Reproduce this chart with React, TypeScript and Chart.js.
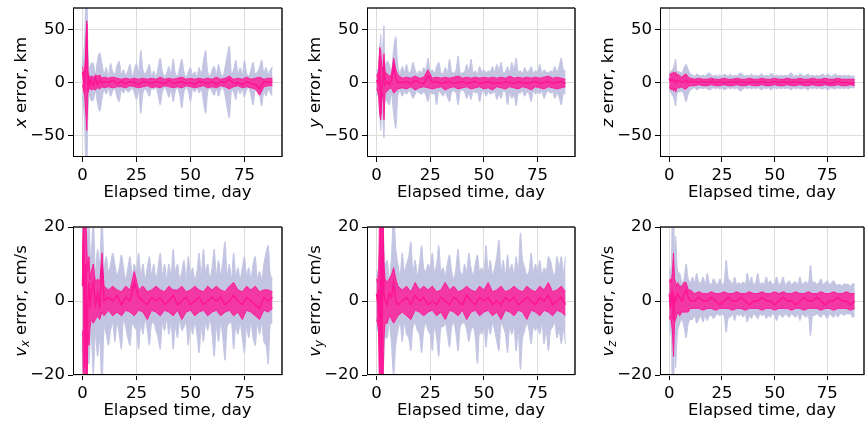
import React, { useEffect, useRef } from "react";
import { Chart, registerables } from "chart.js";
Chart.register(...registerables);

const FONT = '"DejaVu Sans", "Liberation Sans", sans-serif';
const LAVENDER = "#c2c4e2";
const PINK = "#ff1493";
const PINK_FILL = "rgba(255,20,147,0.8)";
const PINK_EDGE = "rgba(255,20,147,0.9)";

const X_TICKS = [0, 25, 50, 75];
const POS_TICKS = [-50, 0, 50];
const VEL_TICKS = [-20, 0, 20];
const X_TITLE = "Elapsed time, day";

// time grid of the lavender envelopes (days)
const T = [0, 0.5, 1, 1.5, 2, 2.5, 3, 3.5, 4, 5, 6, 7, 8, 9, 10, 11, 12, 13, 14, 15, 16, 17, 18, 19, 20, 21, 22, 23, 24, 25, 26, 27, 28, 29, 30, 31, 32, 33, 34, 35, 36, 37, 38, 39, 40, 41, 42, 43, 44, 45, 46, 47, 48, 49, 50, 51, 52, 53, 54, 55, 56, 57, 58, 59, 60, 61, 62, 63, 64, 65, 66, 67, 68, 69, 70, 71, 72, 73, 74, 75, 76, 77, 78, 79, 80, 81, 82, 83, 84, 85, 86, 87, 88];
// time grid of the pink run bundle (days)
const TP = [0, 0.5, 1, 1.5, 2, 2.5, 3, 3.5, 4, 5, 6, 7, 8, 9, 10, 12, 14, 16, 18, 20, 22, 24, 26, 28, 30, 32, 34, 36, 38, 40, 42, 44, 46, 48, 50, 52, 54, 56, 58, 60, 62, 64, 66, 68, 70, 72, 74, 76, 78, 80, 82, 84, 86, 88];

// ---- x error, km
const X_UP = [14,25,40,75,80,35,12,15,18, 18,8,22,28,18,8,14,6,18,10, 8,16,20,8,12,7,11,17,6,12, 18,10,30,12,8,12,17,6,11,5, 14,23,10,6,9,15,8,22,9,6, 14,22,10,5,10,14,7,10,6,14, 8,20,30,10,6,12,15,8,17,9, 6,14,25,34,8,12,21,8,14,7, 21,9,6,12,19,8,10,14,21,9, 14,8,12,15];
const X_LO = [-12,-22,-40,-75,-80,-30,-10,-14,-17, -17,-8,-20,-27,-16,-7,-11,-6,-13,-8, -6,-14,-18,-7,-10,-6,-9,-8,-5,-10, -16,-8,-29,-10,-6,-9,-13,-5,-7,-4, -12,-21,-9,-5,-8,-14,-7,-18,-8,-5, -12,-24,-9,-5,-8,-18,-6,-9,-5,-10, -6,-18,-29,-9,-5,-9,-12,-6,-13,-7, -5,-12,-24,-33,-7,-9,-16,-6,-11,-6, -14,-7,-5,-12,-21,-7,-8,-12,-22,-8, -13,-7,-10,-13];
const X_PHI = [15,8,12,28,58,10,6,5,6, 5,7,6,7,4,5, 4,5,4,3,4,3,4,3,4,3, 4,3,5,3,4,3,4,5,3,4, 3,4,3,4,3,5,3,4,6,3, 4,3,5,3,4,5,3,4,4];
const X_PLO = [-2,-8,-12,-28,-45,-10,-6,-5,-7, -6,-7,-5,-6,-4,-5, -4,-5,-4,-4,-5,-3,-4,-5,-4,-3, -5,-4,-5,-3,-4,-5,-4,-5,-3,-4, -5,-4,-3,-5,-4,-5,-3,-4,-6,-4, -3,-5,-4,-5,-6,-12,-4,-3,-3];
const X_PMID = [10,2,-4,20,55,-8,3,-2,2, -3,4,-2,3,-1,1, 0,2,-1,1,-1,1,0,-2,1,0, -1,1,0,-1,2,-1,0,1,-1,0, -2,1,0,-1,1,-2,1,0,3,-1, 0,-2,1,-1,-2,-6,1,0,1];

// ---- y error, km
const Y_UP = [12,12,14,30,45,10,35,53,15, 20,17,10,32,43,14,9,15,10,17, 9,11,19,12,8,11,9,14,12,23, 10,12,9,15,19,10,8,14,9,22, 10,9,12,25,9,9,10,17,11,22, 9,11,8,15,10,12,9,11,10,15, 10,17,12,19,9,10,15,10,19,12, 23,10,11,9,14,10,11,15,9,11, 10,17,9,12,10,9,11,10,15,10, 15,23,12,11];
const Y_LO = [-11,-12,-14,-30,-45,-18,-35,-52,-15, -18,-21,-10,-30,-43,-12,-8,-13,-9,-11, -8,-10,-15,-11,-8,-10,-11,-9,-12,-18, -9,-11,-10,-21,-8,-10,-13,-9,-14,-18, -9,-8,-10,-21,-8,-7,-9,-15,-10,-16, -8,-10,-9,-18,-10,-8,-13,-9,-11,-10, -9,-16,-11,-15,-8,-9,-21,-10,-15,-12, -22,-10,-10,-8,-13,-9,-11,-18,-8,-11, -9,-11,-8,-15,-10,-8,-10,-9,-15,-10, -14,-21,-10,-11];
const Y_PHI = [6,8,10,33,30,12,15,27,10, 8,6,8,23,12,7, 4,5,4,6,4,5,12,4,5,4, 5,4,5,6,4,5,4,5,4,5, 4,5,4,5,4,6,4,5,4,5, 4,5,4,5,6,4,5,4,3];
const Y_PLO = [-6,-8,-12,-30,-35,-15,-10,-35,-10, -8,-6,-5,-10,-8,-6, -5,-6,-4,-7,-5,-4,-5,-6,-5,-4, -7,-5,-4,-6,-5,-4,-6,-5,-4,-6, -5,-7,-4,-5,-6,-4,-5,-6,-4,-5, -7,-4,-5,-6,-4,-5,-6,-5,-4];
const Y_PMID = [2,0,-1,25,-30,-5,3,20,-2, 1,-2,2,15,3,0, 0,1,-1,2,0,-1,6,0,1,-1, 0,1,-1,0,1,-1,0,1,-1,0, 1,-1,0,-1,1,0,-1,1,0,-1, 0,1,-1,0,1,-1,0,1,-1];

// ---- z error, km
const Z_UP = [9,10,11,12,14,18,22,12,10, 10,9,14,17,12,8,7,6,8,7, 6,7,6,8,9,7,6,7,6,7, 6,8,7,6,8,6,7,6,8,9, 7,6,7,6,8,6,7,6,7,8, 6,7,6,8,8,6,7,6,7,6, 7,6,8,9,6,7,6,8,7,6, 7,8,6,7,6,7,6,7,8,6, 8,7,6,7,8,6,7,6,7,6, 7,6,6,6];
const Z_LO = [-8,-9,-10,-12,-14,-18,-22,-12,-9, -9,-8,-12,-18,-11,-7,-6,-5,-7,-6, -5,-6,-5,-6,-7,-6,-5,-6,-5,-6, -5,-7,-6,-5,-6,-5,-6,-5,-7,-8, -6,-5,-6,-5,-6,-5,-6,-5,-6,-7, -5,-6,-5,-7,-6,-5,-6,-5,-6,-5, -6,-5,-6,-7,-5,-6,-5,-6,-6,-5, -6,-7,-5,-6,-5,-6,-5,-6,-6,-5, -7,-6,-5,-6,-6,-5,-6,-5,-6,-5, -6,-5,-5,-5];
const Z_PHI = [8,7,9,8,10,8,10,7,8, 6,5,7,8,5,4, 3,4,3,3,4,3,3,4,3,3, 4,3,3,4,3,3,4,3,3,4, 3,3,4,3,3,4,3,3,4,3, 3,4,3,3,4,3,3,3,3];
const Z_PLO = [-4,-6,-7,-5,-8,-6,-9,-6,-5, -5,-4,-6,-6,-4,-3, -3,-2,-3,-3,-2,-3,-3,-2,-3,-3, -2,-3,-3,-2,-3,-3,-2,-3,-3,-2, -3,-3,-2,-3,-3,-2,-3,-3,-2,-3, -3,-2,-3,-3,-2,-3,-3,-2,-3];
const Z_PMID = [4,1,2,3,1,2,0,1,2, 1,0,1,2,0,1, 1,0,1,0,1,0,1,0,0,1, 0,1,0,0,1,0,1,0,0,1, 0,1,0,0,1,0,0,1,0,0, 1,0,-1,0,1,0,0,-1,0];

// ---- vx error, cm/s
const VX_UP = [15,22,25,25,22,16,25,14,12, 22,8,14,10,25,9,12,8,10,13, 10,7,9,12.5,9,6,9,12,7,10, 8,13,7,10,6,9,12,7,10,6, 9,13,7,10,6,10,7,14,8,10, 6,8,11,6,12,7,9,6,8,13, 7,14,8,10,6,9,14,7,11,7, 11,16,7,10,6,13,7,9,6,9, 12,7,9,6,10,12,6,8,6,10, 13,15,7,6];
const VX_LO = [-12,-25,-25,-25,-22,-15,-17,-12,-8, -20,-9,-15,-10,-25,-7,-9,-12,-8,-6, -11,-6,-9,-13,-5,-7,-10,-12,-6,-7, -8,-13,-6,-9,-5,-8,-12,-6,-6,-8, -10,-13,-6,-8,-5,-9,-6,-13,-7,-10, -5,-8,-7,-6,-12,-6,-9,-6,-9,-14, -7,-11,-6,-8,-5,-9,-15,-7,-11,-6, -10,-16,-7,-6,-6,-13,-7,-9,-6,-10, -14,-7,-10,-6,-10,-12,-6,-9,-6,-11, -12,-17,-6,-6];
const VX_PHI = [10,25,25,25,14,8,12,6,8, 10,5,6,5,13,4, 3,4,3,2.5,4,3,8,3,4,2.5, 3,4,3,2.5,4,3,3,4,2.5,3, 4,3,2.5,4,3,4,3,2.5,4,5, 3,2.5,4,3,4,2.5,3,3,2.5];
const VX_PLO = [-8,-25,-25,-25,-25,-8,-12,-7,-5, -6,-5,-4,-5,-3,-4, -2.5,-4,-3,-4,-2.5,-3,-4,-2.5,-3,-5, -2.5,-3,-4,-2.5,-3,-4,-2.5,-5,-3,-2.5, -4,-3,-2.5,-4,-3,-2.5,-4,-3,-2.5,-4, -3,-5,-2.5,-3,-4,-5,-2.5,-3,-2];
const VX_PMID = [4,20,-18,10,-20,0,5,-2,2, 5,-1,2,-2,10,0, 1,0,1.5,-1,1,0,5,1,0,-1, 1,0,1,-1,0,1.5,-1,0,1,-1, 0,1,-1,0,1,0,1,-1,0,1.5, 0,-1,1,0,-1,-2,1,0,1];

// ---- vy error, cm/s
const VY_UP = [8,8,9,14,25,25,25,14,10, 11,6,12,25,14,10,7,13,8,10, 12,16,8,11,7,10,15,9,8,10, 9,13,8,10,15,8,9,7,10,12.5, 8,6,9,14,8,7,10,8,13,9, 7,10,12.5,8,9,7,15,8,11,7, 9,12,16.5,8,11,7,12.5,8,10,7, 12,8,18.4,11,9,7,8,13,8,10, 8,11,7,9,8,12,11,8,7,12, 9,12,8,12];
const VY_LO = [-7,-8,-9,-14,-25,-25,-25,-14,-10, -10,-6,-12,-20,-12,-8,-6,-11,-6,-9, -10,-13.5,-7,-6,-8,-9,-14,-8,-6,-8, -9,-13.5,-7,-10,-15,-7,-7,-6,-9,-12.5, -7,-6,-9,-13.5,-7,-6,-6,-8,-11,-8, -7,-10,-17,-8,-9,-7,-12.5,-7,-9,-6, -8,-11,-13.5,-6,-7,-9,-14,-7,-9,-7, -13.5,-8,-18.5,-10,-8,-6,-8,-11.6,-7,-8, -7,-9,-6,-11.6,-8,-13.5,-8,-7,-6,-10, -8,-11.6,-8,-11.6];
const VY_PHI = [6,5,8,25,25,25,25,10,6, 5,6,7,9,6,4, 3,4,2.5,5,3,4,3,4,2.5,3, 5,3,4,2.5,3,4,3,2.5,4,3, 5,2.5,3,4,2.5,3,4,3,2.5,4, 3,2.5,4,3,5,2.5,3,4,2.5];
const VY_PLO = [-5,-6,-8,-25,-25,-25,-25,-10,-6, -6,-4,-5,-6,-5,-4, -3,-4,-5,-2.5,-3,-4,-3,-2.5,-4,-3, -5,-2.5,-3,-4,-2.5,-5,-3,-2.5,-4,-3, -2.5,-4,-3,-5,-2.5,-3,-4,-2.5,-3,-5, -2.5,-3,-4,-2.5,-3,-4,-2.5,-3,-4];
const VY_PMID = [2,0,3,-20,22,-22,20,2,0, -1,2,1,5,0,-1, 0,1,-1,1.5,0,1,-1,0,-1,1, 0,-1,1,0,-1,1.5,0,-1,1,0, 1,-1,0,-1,1,0,1,-1,0,1, 0,-1,1,0,1.5,-1,0,1,-1];

// ---- vz error, cm/s
const VZ_UP = [8,8,10,25,25,12,17.5,12,8, 7.5,5,6,10,6,5,6.5,5,7.5,5, 5,6.5,4.5,7.5,5,4.5,6,5,4.5,6, 4.5,5,11,6,5.5,4.5,6.5,4.5,5,4.5, 5.2,4.5,7.5,5,6.5,4.5,5,7.5,4.5,5, 4.5,6.5,5,5.5,4.5,5,6.5,4.5,5,6.5, 4.5,5,5.5,4.5,5,5.2,4.5,6.5,4.5,5, 5.2,4.5,9.7,5,5.2,4.5,5,6,4.5,5, 5.5,4.5,5,5.5,4.5,4.3,4.5,4,4.7,4.5, 4.5,4,4.7,4.5];
const VZ_LO = [-8,-8,-10,-25,-25,-12,-18,-12,-8, -6,-5,-7,-10,-6,-5,-5,-4,-6,-5, -4,-5.7,-4,-5.3,-4,-4,-4.8,-4,-3.5,-4, -3.5,-4,-8.5,-4.5,-4.4,-3.5,-5.3,-3.5,-4,-3.5, -4.4,-3.5,-5.7,-4,-4.8,-3.5,-4,-4.8,-3.5,-4, -3.5,-4.8,-4,-4.4,-3.5,-4,-5.3,-3.5,-4,-4.4, -3.5,-4,-4.4,-3.5,-4,-4.4,-3.5,-5.3,-3.5,-4, -4.4,-3.5,-9.4,-4,-3.9,-3.5,-4,-4.4,-3.5,-4, -4.8,-3.5,-4,-4.4,-3.5,-4.4,-3.5,-3.5,-3.9,-3.5, -3.5,-3.5,-4.4,-4];
const VZ_PHI = [5,6,5,8,13,6,5,4,5, 4,4,5,5,3,3, 2,2.5,2,2,2.5,2,2,2.5,2,2, 2.5,2,2,2.5,2,2,2.5,2,2,2.5, 2,2.5,2,2,2.5,2,2,2.5,2,2, 2.5,2,2,2.5,2,2,2.5,2,2];
const VZ_PLO = [-5,-4,-6,-8,-15,-6,-5,-4,-3, -4,-3,-3,-3,-3,-2, -2,-2,-2.5,-2,-2,-2.5,-2,-2,-2,-2.5, -2,-2,-2.5,-2,-2,-2,-2.5,-2,-2,-2.5, -2,-2,-2,-2.5,-2,-2,-2.5,-2,-2,-2, -2.5,-2,-2,-2.5,-2,-2,-2,-2.5,-2];
const VZ_PMID = [2,-2,1,3,-5,1,0,1,2, 1,0,2,3,1,0, 0,1,0,0,1,0,-1,0,1,0, 0,1,0,-1,0,0,1,0,0,-1, 0,1,0,0,-1,0,1,0,0,1, 0,-1,0,0,1,0,0,-1,0];

type Part = { t: string; it?: boolean; sub?: boolean };
const LABEL_X: Part[] = [{ t: "x", it: true }, { t: " error, km" }];
const LABEL_Y: Part[] = [{ t: "y", it: true }, { t: " error, km" }];
const LABEL_Z: Part[] = [{ t: "z", it: true }, { t: " error, km" }];
const LABEL_VX: Part[] = [{ t: "v", it: true }, { t: "x", it: true, sub: true }, { t: " error, cm/s" }];
const LABEL_VY: Part[] = [{ t: "v", it: true }, { t: "y", it: true, sub: true }, { t: " error, cm/s" }];
const LABEL_VZ: Part[] = [{ t: "v", it: true }, { t: "z", it: true, sub: true }, { t: " error, cm/s" }];

const PANELS = [
  { cx: 0, cy: 0, cw: 290, ch: 212, L: 73, R: 282, T: 8, B: 157, lim: 70, yt: POS_TICKS, up: X_UP, lo: X_LO, phi: X_PHI, plo: X_PLO, pmid: X_PMID, label: LABEL_X },
  { cx: 290, cy: 0, cw: 290, ch: 212, L: 77, R: 285, T: 8, B: 157, lim: 70, yt: POS_TICKS, up: Y_UP, lo: Y_LO, phi: Y_PHI, plo: Y_PLO, pmid: Y_PMID, label: LABEL_Y },
  { cx: 580, cy: 0, cw: 285, ch: 212, L: 80, R: 284, T: 8, B: 157, lim: 70, yt: POS_TICKS, up: Z_UP, lo: Z_LO, phi: Z_PHI, plo: Z_PLO, pmid: Z_PMID, label: LABEL_Z },
  { cx: 0, cy: 212, cw: 290, ch: 211, L: 73, R: 282, T: 15, B: 163, lim: 20, yt: VEL_TICKS, up: VX_UP, lo: VX_LO, phi: VX_PHI, plo: VX_PLO, pmid: VX_PMID, label: LABEL_VX },
  { cx: 290, cy: 212, cw: 290, ch: 211, L: 77, R: 285, T: 15, B: 163, lim: 20, yt: VEL_TICKS, up: VY_UP, lo: VY_LO, phi: VY_PHI, plo: VY_PLO, pmid: VY_PMID, label: LABEL_VY },
  { cx: 580, cy: 212, cw: 285, ch: 211, L: 80, R: 284, T: 15, B: 163, lim: 20, yt: VEL_TICKS, up: VZ_UP, lo: VZ_LO, phi: VZ_PHI, plo: VZ_PLO, pmid: VZ_PMID, label: LABEL_VZ },
];

const fmt = (v: number) => (v < 0 ? "\u2212" + Math.abs(v) : String(v));
const pts = (xs: number[], ys: number[]) => xs.map((x, i) => ({ x, y: ys[i] }));

function makeFrame(label: Part[]) {
  return {
    id: "frame",
    afterDraw(chart: any) {
      const { ctx, chartArea: a } = chart;
      ctx.save();
      ctx.strokeStyle = "#000";
      ctx.lineWidth = 1;
      ctx.beginPath();
      ctx.moveTo(a.left + 0.5, a.top);
      ctx.lineTo(a.left + 0.5, a.bottom);
      ctx.moveTo(a.left, a.bottom - 0.5);
      ctx.lineTo(a.right, a.bottom - 0.5);
      ctx.stroke();
      ctx.lineWidth = 1.6;
      ctx.strokeStyle = "#222";
      ctx.beginPath();
      ctx.moveTo(a.left, a.top);
      ctx.lineTo(a.right, a.top);
      ctx.moveTo(a.right, a.top);
      ctx.lineTo(a.right, a.bottom);
      ctx.stroke();

      ctx.fillStyle = "#000";
      ctx.font = `16.5px ${FONT}`;
      ctx.textAlign = "center";
      ctx.textBaseline = "alphabetic";
      ctx.fillText(X_TITLE, (a.left + a.right) / 2, a.bottom + 40);

      const fontOf = (p: Part) => `${p.it ? "italic " : ""}${p.sub ? 11.5 : 16.5}px ${FONT}`;
      let total = 0;
      const widths = label.map((p) => {
        ctx.font = fontOf(p);
        const w = ctx.measureText(p.t).width;
        total += w;
        return w;
      });
      ctx.translate(a.left - 47.5, (a.top + a.bottom) / 2);
      ctx.rotate(-Math.PI / 2);
      ctx.textAlign = "left";
      let pos = -total / 2;
      label.forEach((p, i) => {
        ctx.font = fontOf(p);
        ctx.fillText(p.t, pos, p.sub ? 3.5 : 0);
        pos += widths[i];
      });
      ctx.restore();
    },
  };
}

function Panel({ p }: { p: (typeof PANELS)[number] }) {
  const ref = useRef<HTMLCanvasElement>(null);
  useEffect(() => {
    const canvas = ref.current;
    if (!canvas) return;
    const tickFont = { family: FONT, size: 16.5 };
    const chart = new Chart(canvas, {
      type: "line",
      data: {
        datasets: [
          { data: pts(TP, p.pmid), borderColor: PINK, borderWidth: 1.5, pointRadius: 0, fill: false, order: 0 },
          { data: pts(TP, p.phi), borderColor: PINK_EDGE, borderWidth: 1, backgroundColor: PINK_FILL, pointRadius: 0, fill: "+1", order: 1 },
          { data: pts(TP, p.plo), borderColor: PINK_EDGE, borderWidth: 1, pointRadius: 0, fill: false, order: 1 },
          { data: pts(T, p.up), borderColor: LAVENDER, borderWidth: 1, backgroundColor: LAVENDER, pointRadius: 0, fill: "+1", order: 2, tension: 0.3 },
          { data: pts(T, p.lo), borderColor: LAVENDER, borderWidth: 1, pointRadius: 0, fill: false, order: 2, tension: 0.3 },
        ],
      } as any,
      options: {
        animation: false,
        responsive: false,
        events: [],
        layout: { padding: { left: 0, top: p.T, right: p.cw - p.R, bottom: 0 } },
        elements: { line: { tension: 0 }, point: { radius: 0 } },
        plugins: { legend: { display: false }, tooltip: { enabled: false } },
        scales: {
          x: {
            type: "linear",
            min: -4.4,
            max: 92.4,
            afterBuildTicks: (s: any) => { s.ticks = X_TICKS.map((v) => ({ value: v })); },
            afterFit: (s: any) => { s.height = p.ch - p.B; s.paddingLeft = 0; s.paddingRight = 0; },
            grid: { color: "#dcdcdc", lineWidth: 1, tickColor: "#000", tickLength: 5, drawTicks: true },
            border: { display: false },
            ticks: { font: tickFont, color: "#000", padding: 4, autoSkip: false, maxRotation: 0, minRotation: 0, callback: (v: any) => fmt(Number(v)) },
          },
          y: {
            type: "linear",
            min: -p.lim,
            max: p.lim,
            afterBuildTicks: (s: any) => { s.ticks = p.yt.map((v) => ({ value: v })); },
            afterFit: (s: any) => { s.width = p.L; s.paddingTop = 0; s.paddingBottom = 0; },
            grid: { color: "#dcdcdc", lineWidth: 1, tickColor: "#000", tickLength: 5, drawTicks: true },
            border: { display: false },
            ticks: { font: tickFont, color: "#000", padding: 3, autoSkip: false, callback: (v: any) => fmt(Number(v)) },
          },
        },
      } as any,
      plugins: [makeFrame(p.label)],
    });
    return () => chart.destroy();
  }, [p]);
  return (
    <canvas
      ref={ref}
      width={p.cw}
      height={p.ch}
      style={{ position: "absolute", left: p.cx, top: p.cy, width: p.cw, height: p.ch }}
    />
  );
}

export default function App() {
  return (
    <div style={{ position: "absolute", left: 0, top: 0, width: 865, height: 423, background: "#fff", overflow: "hidden" }}>
      {PANELS.map((p, i) => (
        <Panel key={i} p={p} />
      ))}
    </div>
  );
}
